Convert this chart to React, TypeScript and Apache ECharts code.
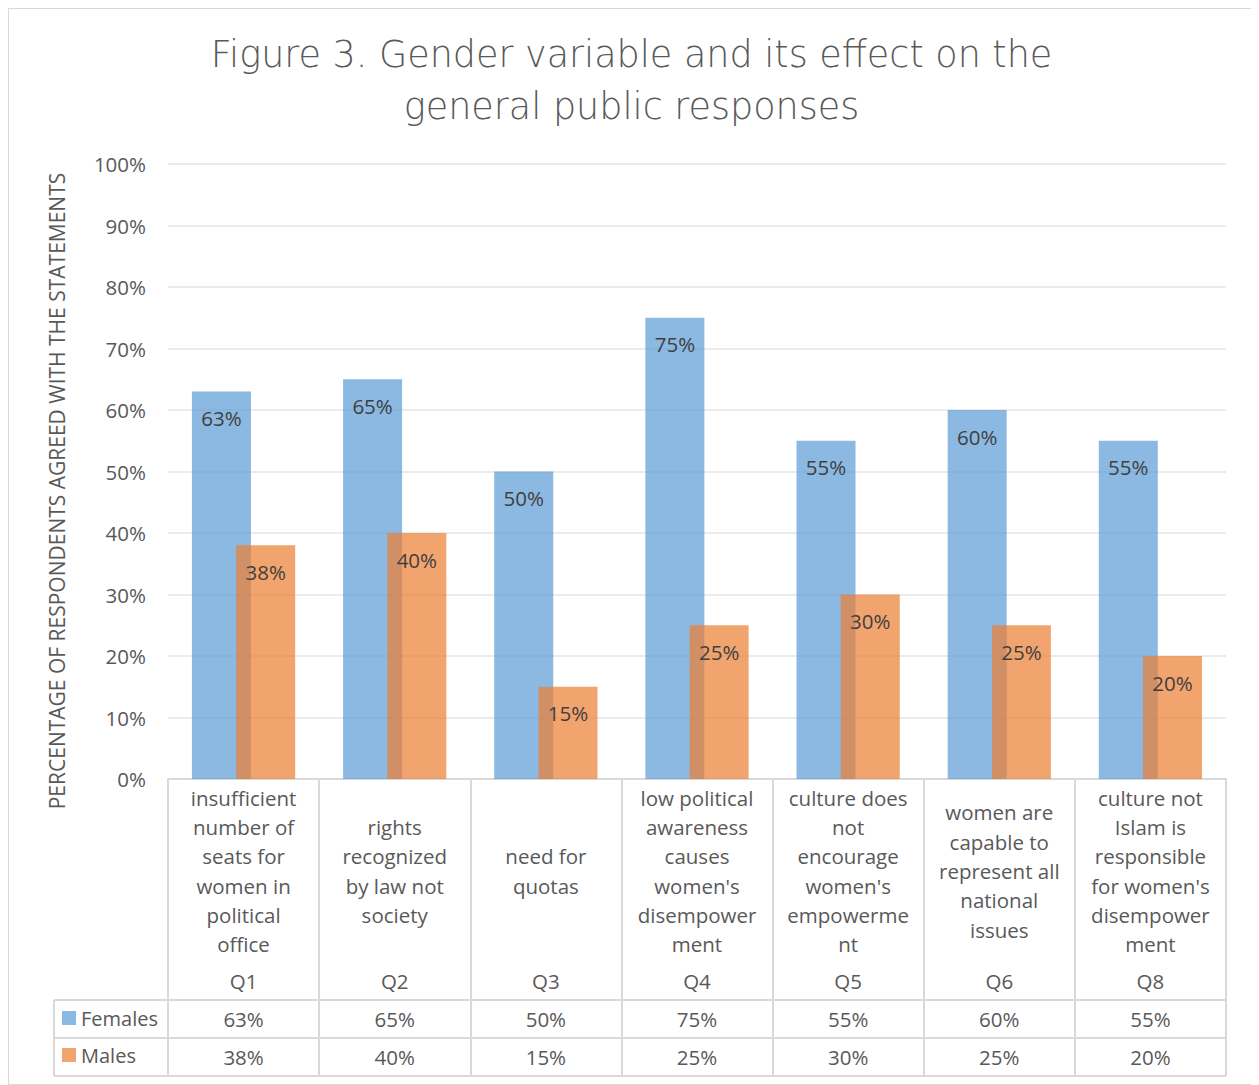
import React, { useEffect, useRef } from "react";
import * as echarts from "echarts";

const questionCodes = ["Q1", "Q2", "Q3", "Q4", "Q5", "Q6", "Q8"];
const statements = [
  "insufficient\nnumber of\nseats for\nwomen in\npolitical\noffice",
  "rights\nrecognized\nby law not\nsociety",
  "need for\nquotas",
  "low political\nawareness\ncauses\nwomen's\ndisempower\nment",
  "culture does\nnot\nencourage\nwomen's\nempowerme\nnt",
  "women are\ncapable to\nrepresent all\nnational\nissues",
  "culture not\nIslam is\nresponsible\nfor women's\ndisempower\nment",
];
const females = [63, 65, 50, 75, 55, 60, 55];
const males = [38, 40, 15, 25, 30, 25, 20];
const yTicks = [0, 10, 20, 30, 40, 50, 60, 70, 80, 90, 100];

const FONT = "'Open Sans', 'Noto Sans', sans-serif";
const TXT = "#595959";
const GRID_LINE = "#D9D9D9";
const BLUE = "rgba(91,155,213,0.7)";
const ORANGE = "rgba(237,125,49,0.7)";
const FS = 20.5;

export default function App() {
  const ref = useRef<HTMLDivElement>(null);
  useEffect(() => {
    document.body.style.overflow = "hidden";
    const chart = echarts.init(ref.current!, null, { renderer: "svg" });
    const W = 1245;
    const gridLeft = 159;
    const gridRight = 28;
    const gridTop = 155;
    const gridBottomPx = 770; // chart y of 0%
    const tableBottom = 1067;
    const rowLines = [991, 1029, 1067];
    const legendLeft = 45;
    const tableRight = W - gridRight;

    const commonX = {
      type: "category",
      data: questionCodes,
      position: "bottom",
      axisLine: { show: false },
      axisTick: { show: false },
      splitLine: { show: false },
    };
    const lab = (margin: number) => ({
      interval: 0,
      margin,
      verticalAlign: "middle",
      fontFamily: FONT,
      fontSize: FS,
      color: TXT,
    });

    const option: any = {
      animation: false,
      textStyle: { fontFamily: FONT },
      title: {
        text: "Figure 3. Gender variable and its effect on the\ngeneral public responses",
        left: "center",
        top: 14,
        textStyle: {
          fontFamily: "'DejaVu Sans', sans-serif",
          fontSize: 36.5,
          fontWeight: 200,
          color: TXT,
          lineHeight: 52,
        },
      },
      legend: {
        orient: "vertical",
        left: legendLeft + 8,
        top: 994,
        itemWidth: 14,
        itemHeight: 14,
        itemGap: 17,
        padding: [5, 5, 5, 0],
        icon: "rect",
        textStyle: { fontFamily: FONT, fontSize: 20, color: TXT },
        data: ["Females", "Males"],
      },
      grid: {
        left: gridLeft,
        right: gridRight,
        top: gridTop,
        bottom: 1075 - gridBottomPx,
        containLabel: false,
      },
      yAxis: {
        type: "value",
        min: 0,
        max: 100,
        interval: 10,
        axisLine: { show: false },
        axisTick: { show: false },
        axisLabel: {
          formatter: (v: number) => (yTicks.includes(v) ? v + "%" : ""),
          fontFamily: FONT,
          fontSize: FS,
          color: TXT,
          margin: 22,
        },
        splitLine: { lineStyle: { color: "#EBEBEB", width: 2 } },
      },
      xAxis: [
        {
          type: "category",
          data: statements,
          position: "bottom",
          axisLine: { show: true, lineStyle: { color: GRID_LINE, width: 2 } },
          axisTick: {
            show: true,
            length: tableBottom - gridBottomPx,
            interval: 0,
            lineStyle: { color: GRID_LINE, width: 2 },
          },
          axisLabel: { ...lab(92), lineHeight: 29.3 },
        },
        { ...commonX, data: questionCodes, axisLabel: lab(202) },
        { ...commonX, data: females.map((v) => v + "%"), axisLabel: lab(240) },
        { ...commonX, data: males.map((v) => v + "%"), axisLabel: lab(278) },
      ],
      series: [
        {
          name: "Females",
          type: "bar",
          xAxisIndex: 0,
          data: females,
          barWidth: 59,
          barGap: "-25%",
          itemStyle: { color: BLUE },
          label: {
            show: true,
            position: "insideTop",
            distance: 16,
            formatter: "{c}%",
            fontFamily: FONT,
            fontSize: FS,
            color: "#404040",
          },
        },
        {
          name: "Males",
          type: "bar",
          xAxisIndex: 0,
          data: males,
          barWidth: 59,
          itemStyle: { color: ORANGE },
          label: {
            show: true,
            position: "insideTop",
            distance: 16,
            formatter: "{c}%",
            fontFamily: FONT,
            fontSize: FS,
            color: "#404040",
          },
        },
      ],
      graphic: [
        {
          type: "text",
          x: 48,
          y: 482,
          rotation: Math.PI / 2,
          style: {
            text: "PERCENTAGE OF RESPONDENTS AGREED WITH THE STATEMENTS",
            fontFamily: FONT,
            fontSize: 21,
            fill: TXT,
            align: "center",
            verticalAlign: "middle",
          },
        },
        ...rowLines.map((y) => ({
          type: "line",
          shape: { x1: legendLeft, y1: y, x2: tableRight, y2: y },
          style: { stroke: GRID_LINE, lineWidth: 2 },
        })),
        {
          type: "line",
          shape: { x1: legendLeft, y1: rowLines[0], x2: legendLeft, y2: tableBottom },
          style: { stroke: GRID_LINE, lineWidth: 2 },
        },
      ],
    };
    chart.setOption(option);
    return () => chart.dispose();
  }, []);
  return (
    <div
      ref={ref}
      style={{
        width: 1247,
        height: 1077,
        border: "1px solid #D9D9D9",
        boxSizing: "border-box",
        background: "#fff",
      }}
    />
  );
}
